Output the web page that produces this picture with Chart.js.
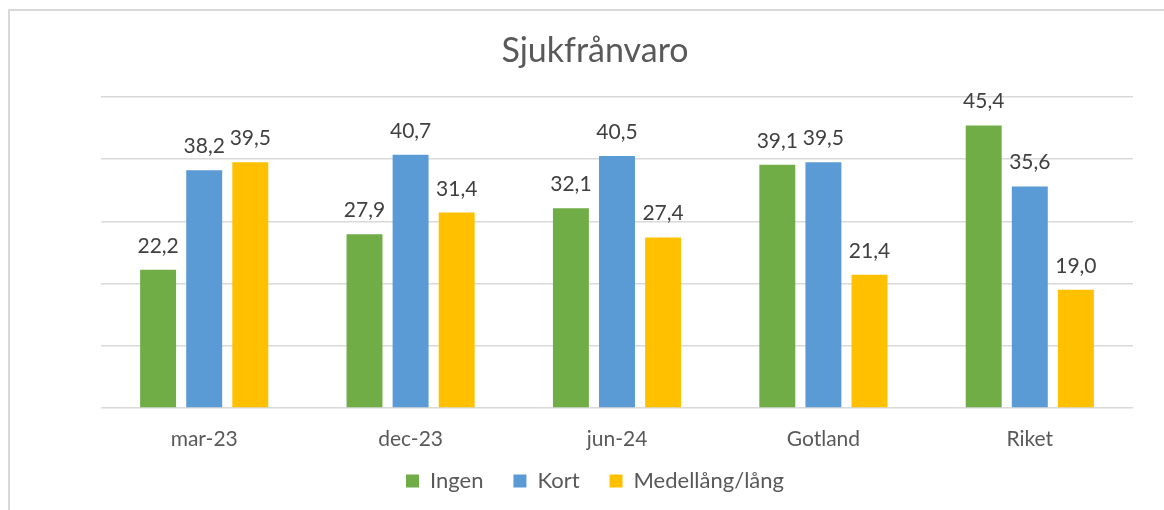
<!DOCTYPE html>
<html>
<head>
<meta charset="utf-8">
<script src="https://cdn.jsdelivr.net/npm/chart.js@4"></script>
<style>
  html, body { margin: 0; padding: 0; background: #fff; overflow: hidden; }
  #wrap { position: relative; width: 1164px; height: 510px; }
  #frame { position: absolute; left: 8px; top: 9px; width: 1300px; height: 700px; border: 2px solid #d9d9d9; }
  canvas { position: absolute; left: 0; top: 0; }
</style>
</head>
<body>
<div id="wrap">
  <div id="frame"></div>
  <canvas id="chartCanvas" width="1164" height="510"></canvas>
</div>
<script>
const categories = ['mar-23', 'dec-23', 'jun-24', 'Gotland', 'Riket'];
const ingen = [22.2, 27.9, 32.1, 39.1, 45.4];
const kort = [38.2, 40.7, 40.5, 39.5, 35.6];
const medellang = [39.5, 31.4, 27.4, 21.4, 19.0];

const FONT = 'Lato, "Open Sans", sans-serif';

// values above bars, swedish decimal comma
const valueLabels = {
    id: 'valueLabels',
    beforeDraw(chart) {
        // x labels sit lower than the squeezed axis box, so don't clip them
        chart.scales.x.bottom = chart.height;
    },
    afterDatasetsDraw(chart) {
        const ctx = chart.ctx;
        ctx.save();
        ctx.font = '21px ' + FONT;
        ctx.fillStyle = '#404040';
        ctx.textAlign = 'center';
        ctx.textBaseline = 'alphabetic';
        chart.data.datasets.forEach((ds, i) => {
            chart.getDatasetMeta(i).data.forEach((bar, j) => {
                ctx.fillText(ds.data[j].toFixed(1).replace('.', ','), bar.x, bar.y - 17);
            });
        });
        ctx.restore();
    }
};

const ctx = document.getElementById('chartCanvas');

new Chart(ctx, {
    type: 'bar',
    data: {
        labels: categories,
        datasets: [
            { label: 'Ingen', data: ingen, backgroundColor: '#70AD47' },
            { label: 'Kort', data: kort, backgroundColor: '#5B9BD5' },
            { label: 'Medellång/lång', data: medellang, backgroundColor: '#FFC000' }
        ]
    },
    options: {
        responsive: false,
        animation: false,
        devicePixelRatio: 1,
        layout: { padding: { left: 57, right: 31, top: 0, bottom: 8 } },
        datasets: {
            bar: { categoryPercentage: 0.67, barPercentage: 0.78 }
        },
        scales: {
            x: {
                grid: { display: false, drawTicks: false },
                border: { display: false },
                ticks: { color: '#595959', font: { family: FONT, size: 21 }, padding: 19 },
                afterFit(scale) { scale.height = 32; }
            },
            y: {
                min: 0,
                max: 50,
                ticks: { display: false, stepSize: 10 },
                grid: { color: '#d9d9d9', lineWidth: 1.5, drawTicks: false },
                border: { display: false },
                afterFit(scale) { scale.width = 44; }
            }
        },
        plugins: {
            title: {
                display: true,
                text: 'Sjukfrånvaro',
                color: '#595959',
                font: { family: FONT, size: 34, weight: 'normal' },
                padding: { top: 31, bottom: 25 }
            },
            legend: {
                position: 'bottom',
                labels: {
                    color: '#595959',
                    font: { family: FONT, size: 22 },
                    boxWidth: 13,
                    boxHeight: 13,
                    padding: 30
                }
            },
            tooltip: { enabled: false }
        }
    },
    plugins: [valueLabels]
});
</script>
</body>
</html>
